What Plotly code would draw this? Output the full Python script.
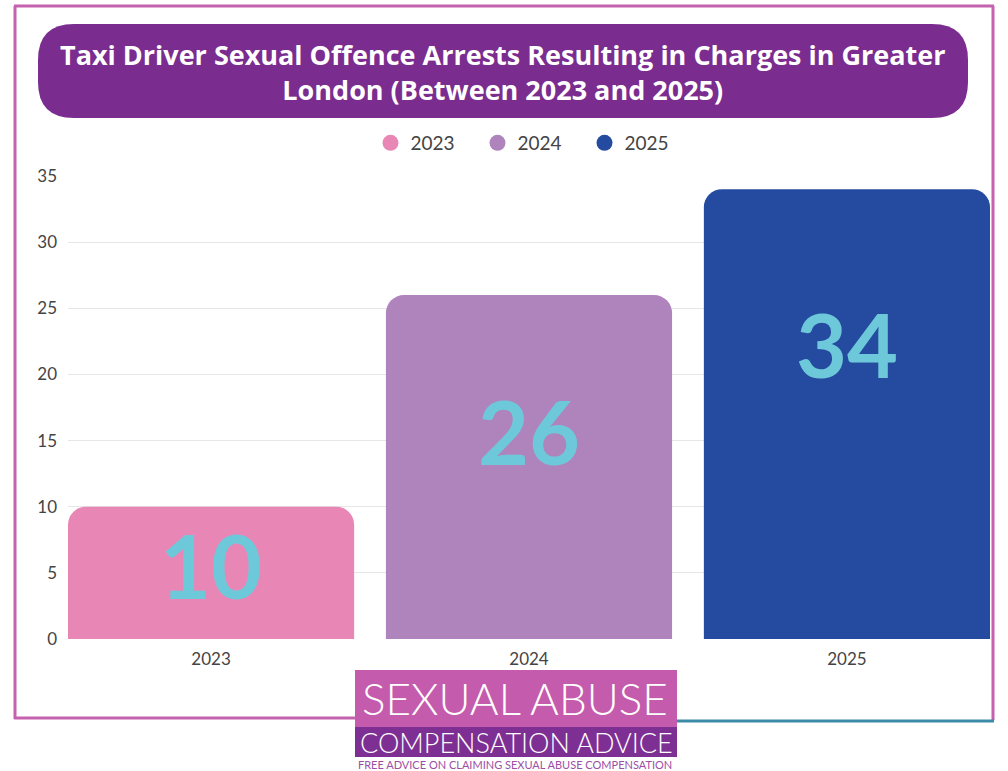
import plotly.graph_objects as go

years = ["2023", "2024", "2025"]
values = [10, 26, 34]
colors = ["#E887B5", "#AF83BC", "#244BA0"]
y_ticks = [0, 5, 10, 15, 20, 25, 30, 35]
title_text = "Taxi Driver Sexual Offence Arrests Resulting in Charges in Greater<br>London (Between 2023 and 2025)"

W, H = 1008, 771

def px(x):
    return x / W

def py(y):
    return (H - y) / H

def rounded_rect(x0, y0, x1, y1, r):
    def P(x, y):
        return f"{px(x):.5f},{py(y):.5f}"
    return (f"M {P(x0 + r, y0)} L {P(x1 - r, y0)} Q {P(x1, y0)} {P(x1, y0 + r)} "
            f"L {P(x1, y1 - r)} Q {P(x1, y1)} {P(x1 - r, y1)} "
            f"L {P(x0 + r, y1)} Q {P(x0, y1)} {P(x0, y1 - r)} "
            f"L {P(x0, y0 + r)} Q {P(x0, y0)} {P(x0 + r, y0)} Z")

fig = go.Figure()

for yr, v, c in zip(years, values, colors):
    fig.add_trace(go.Bar(
        x=[yr], y=[v], marker=dict(color=c, cornerradius=18, line=dict(width=0)),
        showlegend=False, hoverinfo="skip",
    ))
    fig.add_trace(go.Scatter(
        x=[None], y=[None], mode="markers", name=yr,
        marker=dict(color=c, size=18, symbol="circle"),
    ))

label_frac = [0.56, 0.605, 0.655]
annotations = []
for i, (v, f) in enumerate(zip(values, label_frac)):
    annotations.append(dict(
        x=i, y=v * f, xref="x", yref="y", text=str(v), showarrow=False,
        font=dict(family="Lato", size=88, color="#6DC9D9", weight="bold"),
        yanchor="middle", xanchor="center",
    ))

annotations.append(dict(
    x=px(503), y=py(72), xref="paper", yref="paper", text=title_text, showarrow=False,
    font=dict(family="Open Sans", size=27, color="white", weight=700),
    align="center", xanchor="center", yanchor="middle",
))

annotations.append(dict(
    x=px(515), y=py(698), xref="paper", yref="paper", text="SEXUAL ABUSE", showarrow=False,
    font=dict(family="Lato", size=44, color="white", weight=300),
    xanchor="center", yanchor="middle",
))
annotations.append(dict(
    x=px(516), y=py(742), xref="paper", yref="paper", text="COMPENSATION ADVICE", showarrow=False,
    font=dict(family="Lato", size=27, color="white", weight=300),
    xanchor="center", yanchor="middle",
))
annotations.append(dict(
    x=px(515), y=py(764), xref="paper", yref="paper",
    text="FREE ADVICE ON CLAIMING SEXUAL ABUSE COMPENSATION", showarrow=False,
    font=dict(family="Lato", size=11, color="#9B4FA6"),
    xanchor="center", yanchor="middle",
))

shapes = [
    dict(type="path", xref="paper", yref="paper", path=rounded_rect(38, 24, 968, 118, 36),
         fillcolor="#7A2C8F", line=dict(width=0), layer="below"),
    dict(type="line", xref="paper", yref="paper", x0=px(15), x1=px(15), y0=py(6), y1=py(719),
         line=dict(color="#C561AE", width=3)),
    dict(type="line", xref="paper", yref="paper", x0=px(14), x1=px(994), y0=py(6), y1=py(6),
         line=dict(color="#C561AE", width=3)),
    dict(type="line", xref="paper", yref="paper", x0=px(993), x1=px(993), y0=py(6), y1=py(720),
         line=dict(color="#C561AE", width=3)),
    dict(type="line", xref="paper", yref="paper", x0=px(14), x1=px(356), y0=py(718), y1=py(718),
         line=dict(color="#C561AE", width=3)),
    dict(type="line", xref="paper", yref="paper", x0=px(676), x1=px(994), y0=py(721), y1=py(721),
         line=dict(color="#3B8AA7", width=3)),
    dict(type="rect", xref="paper", yref="paper", x0=px(355), x1=px(677), y0=py(727), y1=py(670),
         fillcolor="#C45BAC", line=dict(width=0)),
    dict(type="rect", xref="paper", yref="paper", x0=px(355), x1=px(677), y0=py(757), y1=py(727),
         fillcolor="#7E2F93", line=dict(width=0)),
]

fig.update_layout(
    width=W, height=H,
    margin=dict(l=0, r=0, t=0, b=0, autoexpand=False),
    paper_bgcolor="white", plot_bgcolor="white",
    barmode="overlay", bargap=0.1,
    xaxis=dict(domain=[px(68), px(990)], range=[-0.45, 2.45], type="category",
               categoryorder="array", categoryarray=years,
               showgrid=False, zeroline=False, showline=False, automargin=False,
               tickfont=dict(family="Lato", size=17, color="#444"),
               ticklabelstandoff=8, fixedrange=True),
    yaxis=dict(domain=[py(639), py(176)], range=[0, 35], tickvals=y_ticks,
               showgrid=True, gridcolor="#E6E6E6", gridwidth=1, zeroline=False,
               showline=False, automargin=False,
               tickfont=dict(family="Lato", size=17, color="#444"),
               ticklabelstandoff=10, fixedrange=True),
    legend=dict(orientation="h", x=px(531), y=py(143), xanchor="center", yanchor="middle",
                font=dict(family="Lato", size=19, color="#444"), itemwidth=30,
                entrywidth=62, entrywidthmode="pixels",
                bgcolor="rgba(0,0,0,0)"),
    annotations=annotations,
    shapes=shapes,
)

fig.write_html(
    "out.html",
    config={"displayModeBar": False},
    post_script="document.body.style.margin='0';document.body.style.overflow='hidden';",
)
